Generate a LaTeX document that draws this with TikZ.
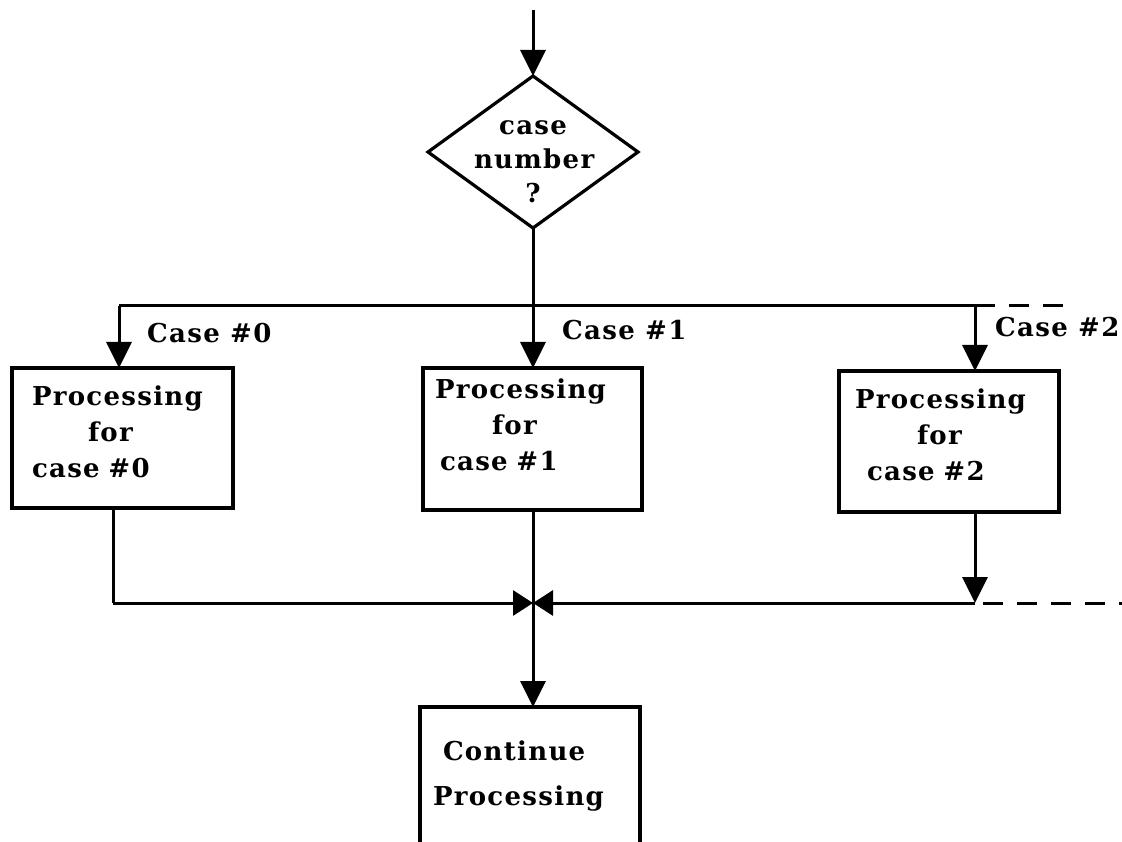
\documentclass[tikz,border=0pt]{standalone}
\usepackage{fontspec}
\usetikzlibrary{arrows.meta,shapes.geometric}
\newfontfamily\slabfont[LetterSpace=5]{DejaVu Serif}
\begin{document}
\begin{tikzpicture}[x=1pt,y=-1pt,
  txt/.style={font={\slabfont\bfseries\fontsize{26}{36}\selectfont}},
  conn/.style={line width=3pt},
  arr/.style={conn,-{Triangle[length=26pt,width=25pt]}},
  arrsmall/.style={conn,-{Triangle[length=20pt,width=25pt]}},
  pbox/.style={txt,draw,line width=3.2pt,rectangle,align=left,
    inner ysep=0pt,outer sep=0pt,anchor=north west},
  decbox/.style={txt,draw,line width=3.2pt,diamond,inner sep=0pt,outer sep=0pt,
    minimum width=210pt,minimum height=135pt,text width=118pt,align=center,
    text height=0pt,text depth=34pt,font={\slabfont\bfseries\fontsize{26}{34}\selectfont}},
  lbl/.style={txt,anchor=base west,inner sep=0pt}]
\useasboundingbox (0,0) rectangle (1122,842);
\clip (0,0) rectangle (1122,842);

% decision
\node[decbox] (dec) at (533,152) {case\\number\\?};
\coordinate (top) at (533,10);
\draw[arr] (top) -- (dec.north);

% branch bus
\coordinate (j0) at (119,306);
\coordinate (j2) at (975,306);
\coordinate (jend) at (1063,306);
\draw[conn] (j0) -- (j2);
\draw[conn,dash pattern=on 20pt off 14pt] (j2) -- (jend);

% processing boxes
\node[pbox,text width=181pt,inner xsep=20pt,text height=37pt,text depth=103pt]
  (p0) at (12,368) {Processing\\\hspace*{56pt}for\\case \#0};
\node[pbox,text width=195pt,inner xsep=12pt,text height=30pt,text depth=112pt]
  (p1) at (423,368) {Processing\\\hspace*{57pt}for\\\hspace*{5pt}case \#1};
\node[pbox,text width=188pt,inner xsep=16pt,text height=37pt,text depth=104pt]
  (p2) at (839,371) {Processing\\\hspace*{62pt}for\\\hspace*{12pt}case \#2};

% branch arrows
\draw[arr] (j0) -- (j0 |- p0.north);
\draw[arr] (dec.south) -- (dec.south |- p1.north);
\draw[arr] (j2) -- (j2 |- p2.north);

% branch labels
\node[lbl] (c0) at (147,342) {Case \#0};
\node[lbl] (c1) at (562,340) {Case \#1};
\node[lbl] (c2) at (995,337) {Case \#2};

% merge bus
\coordinate (b0) at (113,603);
\coordinate (m) at (533,603);
\coordinate (b2) at (975,603);
\coordinate (bend) at (1122,603);
\draw[conn] (b0 |- p0.south) -- (b0);
\draw[arrsmall] (b0) -- (m);
\draw[arrsmall] (b2) -- (m);
\draw[arr] (b2 |- p2.south) -- (b2);
\draw[conn,dash pattern=on 20pt off 14pt,shorten <=8pt] (b2) -- (bend);

% continuation
\node[pbox,text width=194pt,inner xsep=13pt,text height=53pt,text depth=200pt,
  font={\slabfont\bfseries\fontsize{26}{45}\selectfont}]
  (cont) at (420,707) {\hspace*{10pt}Continue\\Processing};
\draw[arr] (m |- p1.south) -- (m |- cont.north);
\end{tikzpicture}
\end{document}
